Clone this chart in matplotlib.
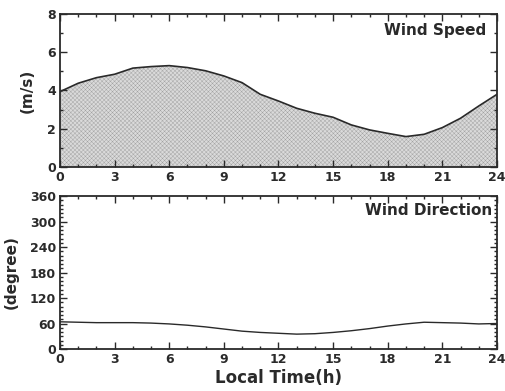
import matplotlib.pyplot as plt
from matplotlib.ticker import MultipleLocator

plt.rcParams['hatch.linewidth'] = 0.3
plt.rcParams['hatch.color'] = '#9a9a9a'

# Hourly values, local time 0..24
hours = list(range(25))
speed = [3.94, 4.38, 4.67, 4.85, 5.17, 5.25, 5.30, 5.20, 5.03, 4.76, 4.41,
         3.80, 3.45, 3.07, 2.81, 2.60, 2.20, 1.94, 1.76, 1.59, 1.71, 2.06,
         2.55, 3.19, 3.80]
direction = [64, 63, 62, 62, 62, 61, 59, 56, 52, 47, 42, 39, 37, 35, 36, 39,
             43, 48, 54, 59, 63, 62, 61, 59, 60]

ink = '#2a2a2a'
fig = plt.figure(figsize=(5.05, 3.91), dpi=100)
ax1 = fig.add_axes([0.1188, 0.5729, 0.8653, 0.3913])
ax2 = fig.add_axes([0.1188, 0.1074, 0.8653, 0.3913])

# Wind speed panel
ax1.fill_between(hours, 0, speed, facecolor='#dadada', hatch='xxxxxxxx',
                 edgecolor='#a0a0a0', linewidth=0)
ax1.plot(hours, speed, color=ink, lw=1.2)
ax1.set_ylim(0, 8)
ax1.yaxis.set_major_locator(MultipleLocator(2))
ax1.yaxis.set_minor_locator(MultipleLocator(1))
ax1.set_ylabel('(m/s)', fontsize=11, fontweight='bold', color=ink, labelpad=9)
ax1.text(0.975, 0.895, 'Wind Speed', transform=ax1.transAxes,
         ha='right', va='center', fontsize=11, fontweight='bold', color=ink)

# Wind direction panel
ax2.plot(hours, direction, color=ink, lw=1.0)
ax2.set_ylim(0, 360)
ax2.yaxis.set_major_locator(MultipleLocator(60))
ax2.yaxis.set_minor_locator(MultipleLocator(10))
ax2.set_ylabel('(degree)', fontsize=11, fontweight='bold', color=ink, labelpad=8)
ax2.set_xlabel('Local Time(h)', fontsize=12, fontweight='bold',
               color=ink, labelpad=2)
ax2.text(0.99, 0.908, 'Wind Direction', transform=ax2.transAxes,
         ha='right', va='center', fontsize=11, fontweight='bold', color=ink)

for ax in (ax1, ax2):
    ax.set_xlim(0, 24)
    ax.xaxis.set_major_locator(MultipleLocator(3))
    ax.xaxis.set_minor_locator(MultipleLocator(1))
    ax.tick_params(which='both', direction='in', top=True, right=True,
                   colors=ink, labelsize=9, width=1)
    ax.tick_params(which='major', length=5, pad=3)
    ax.tick_params(which='minor', length=2.5)
    for lab in ax.get_xticklabels() + ax.get_yticklabels():
        lab.set_fontweight('bold')
    for s in ax.spines.values():
        s.set_color(ink)
        s.set_linewidth(1.3)

plt.savefig('out.png', dpi=100)
